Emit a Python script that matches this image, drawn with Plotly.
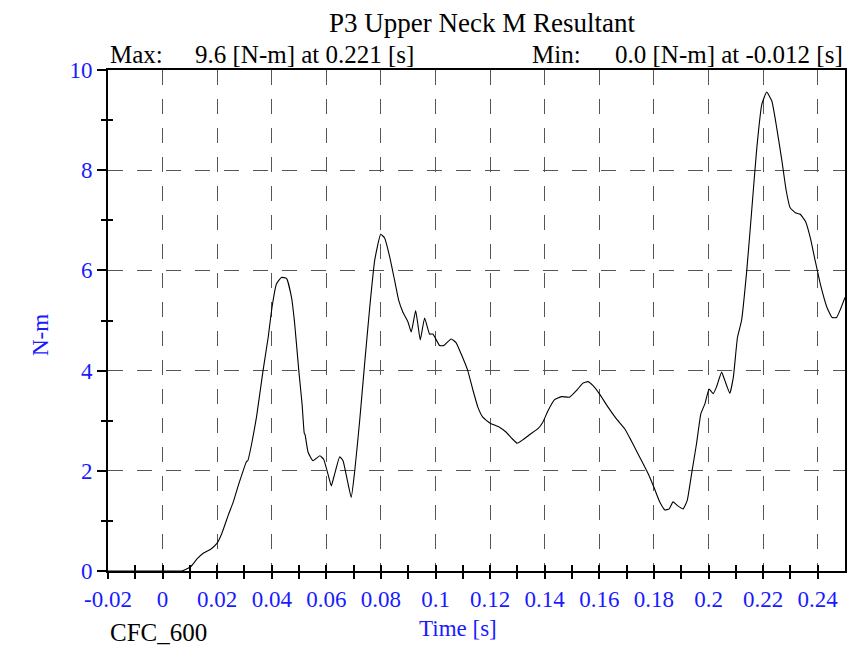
import plotly.graph_objects as go

title_text = "P3 Upper Neck M Resultant"
max_label = "Max:"
max_text = "9.6 [N-m] at 0.221 [s]"
min_label = "Min:"
min_text = "0.0 [N-m] at -0.012 [s]"
x_title = "Time [s]"
y_title = "N-m"
filter_text = "CFC_600"

time_s = [-0.02, -0.012, 0.0, 0.005, 0.007, 0.0102, 0.0126, 0.015, 0.0175, 0.0199, 0.0217,
          0.0241, 0.0259, 0.0278, 0.0295, 0.0307, 0.0312, 0.0326, 0.0344, 0.0368, 0.0387,
          0.0401, 0.0417, 0.0435, 0.0454, 0.0472, 0.0484, 0.0499, 0.0511, 0.0519, 0.0522,
          0.0533, 0.0551, 0.0576, 0.059, 0.0606, 0.0618, 0.063, 0.0649, 0.0661, 0.0676,
          0.0691, 0.0704, 0.0722, 0.074, 0.0759, 0.0777, 0.0799, 0.0813, 0.0832, 0.085,
          0.0865, 0.088, 0.0899, 0.0911, 0.0927, 0.0935, 0.0944, 0.096, 0.0978, 0.099,
          0.1015, 0.103, 0.1057, 0.1075, 0.1094, 0.1118, 0.1136, 0.1155, 0.1173, 0.12,
          0.1234, 0.1259, 0.1281, 0.1299, 0.132, 0.1344, 0.1375, 0.1393, 0.1412, 0.1436,
          0.1461, 0.1491, 0.1516, 0.154, 0.1558, 0.1577, 0.1601, 0.1632, 0.1662, 0.1693,
          0.1717, 0.1748, 0.1779, 0.18, 0.1821, 0.184, 0.1856, 0.187, 0.1885, 0.1907,
          0.1922, 0.1938, 0.1956, 0.1972, 0.1987, 0.2002, 0.2017, 0.2029, 0.2048, 0.206,
          0.2078, 0.2091, 0.2106, 0.2121, 0.214, 0.2158, 0.2177, 0.2195, 0.2213, 0.2232,
          0.225, 0.2269, 0.2285, 0.2299, 0.2318, 0.2336, 0.2355, 0.2373, 0.2391, 0.241,
          0.2434, 0.2453, 0.2469, 0.2483, 0.25]
moment_nm = [0.0, 0.0, 0.0, 0.0, 0.0, 0.08, 0.24, 0.36, 0.43, 0.55, 0.75,
             1.12, 1.38, 1.72, 2.0, 2.18, 2.2, 2.53, 3.07, 4.0, 4.67,
             5.27, 5.73, 5.86, 5.84, 5.47, 4.93, 4.0, 3.33, 2.75, 2.72,
             2.37, 2.2, 2.3, 2.23, 1.93, 1.7, 1.93, 2.28, 2.2, 1.83,
             1.47, 2.0, 3.0, 4.13, 5.27, 6.2, 6.72, 6.65, 6.27, 5.8,
             5.4, 5.17, 4.97, 4.77, 5.2, 4.93, 4.61, 5.05, 4.73, 4.73,
             4.5, 4.5, 4.63, 4.56, 4.33, 4.0, 3.63, 3.27, 3.07, 2.95,
             2.87, 2.77, 2.64, 2.55, 2.62, 2.72, 2.84, 2.97, 3.2, 3.42,
             3.48, 3.47, 3.6, 3.75, 3.78, 3.7, 3.53, 3.27, 3.04, 2.84,
             2.6, 2.27, 1.94, 1.67, 1.38, 1.22, 1.24, 1.38, 1.31, 1.24,
             1.41, 1.94, 2.54, 3.14, 3.34, 3.63, 3.54, 3.67, 3.97, 3.8,
             3.55, 3.87, 4.66, 5.0, 5.99, 7.18, 8.45, 9.31, 9.56, 9.38,
             8.84, 8.18, 7.58, 7.25, 7.15, 7.12, 6.98, 6.65, 6.19, 5.72,
             5.26, 5.06, 5.06, 5.22, 5.46]

x_major = [-0.02, 0.0, 0.02, 0.04, 0.06, 0.08, 0.1, 0.12, 0.14, 0.16, 0.18, 0.2, 0.22, 0.24]
x_major_labels = ["-0.02", "0", "0.02", "0.04", "0.06", "0.08", "0.1", "0.12", "0.14",
                  "0.16", "0.18", "0.2", "0.22", "0.24"]
x_minor = [-0.01, 0.01, 0.03, 0.05, 0.07, 0.09, 0.11, 0.13, 0.15, 0.17, 0.19, 0.21, 0.23]
x_all = sorted(x_major + x_minor)
y_major = [0, 2, 4, 6, 8, 10]
y_minor = [1, 3, 5, 7, 9]

FONT = "Liberation Serif, Times New Roman, serif"
BLUE = "#1a1aff"
GRID = "rgb(85,85,85)"

# The page body has an 8px default margin; plot area target on screen: x 108..845, y 70..571
OFF = 8
PL, PR, PT, PB = 108, 845, 70, 571
W, H = 858 - OFF, 646 - OFF

fig = go.Figure()
fig.add_trace(go.Scatter(x=time_s, y=moment_nm, mode="lines",
                         line=dict(color="black", width=1.1, shape="spline", smoothing=0.4),
                         showlegend=False, hoverinfo="skip"))
fig.add_trace(go.Scatter(x=[None], y=[None], xaxis="x2", yaxis="y", showlegend=False))
fig.add_trace(go.Scatter(x=[None], y=[None], xaxis="x", yaxis="y2", showlegend=False))

fig.update_layout(
    width=W, height=H,
    margin=dict(l=PL - OFF, r=W - (PR - OFF), t=PT - OFF, b=H - (PB - OFF), pad=0),
    paper_bgcolor="white", plot_bgcolor="white",
    font=dict(family=FONT, color="black"),
    xaxis=dict(range=[-0.02, 0.25], tickvals=x_major, ticktext=x_major_labels,
               ticks="outside", ticklen=6, tickwidth=1.5, tickcolor="black",
               tickfont=dict(family=FONT, size=23, color=BLUE),
               minor=dict(tickvals=x_minor, ticks="outside", ticklen=6, tickwidth=1.5,
                          tickcolor="black", showgrid=False),
               showgrid=True, gridcolor=GRID, gridwidth=1, griddash="15px,14px",
               showline=True, linecolor="black", linewidth=2, mirror=True,
               zeroline=False, automargin=False),
    xaxis2=dict(range=[-0.02, 0.25], overlaying="x", anchor="y", side="bottom",
                tickvals=x_all, ticks="inside", ticklen=6, tickwidth=1.5, tickcolor="black",
                showticklabels=False, showgrid=False, showline=False, zeroline=False),
    yaxis=dict(range=[0, 10], tickvals=y_major,
               ticks="outside", ticklen=9, tickwidth=1.5, tickcolor="black",
               tickfont=dict(family=FONT, size=23, color=BLUE),
               minor=dict(tickvals=y_minor, ticks="outside", ticklen=5, tickwidth=1.5,
                          tickcolor="black", showgrid=False),
               showgrid=True, gridcolor=GRID, gridwidth=1, griddash="15px,14px",
               showline=True, linecolor="black", linewidth=2, mirror=True,
               zeroline=False, automargin=False),
    yaxis2=dict(range=[0, 10], overlaying="y", anchor="x", side="left",
                tickvals=y_minor, ticks="inside", ticklen=5, tickwidth=1.5, tickcolor="black",
                showticklabels=False, showgrid=False, showline=False, zeroline=False),
)

annos = [
    dict(text=title_text, x=482, y=23, font=dict(size=27, color="black"), xanchor="center"),
    dict(text=max_label, x=108, y=54, font=dict(size=25, color="black"), xanchor="left"),
    dict(text=max_text, x=193, y=54, font=dict(size=25, color="black"), xanchor="left"),
    dict(text=min_label, x=530, y=54, font=dict(size=25, color="black"), xanchor="left"),
    dict(text=min_text, x=845, y=54, font=dict(size=25, color="black"), xanchor="right"),
    dict(text=filter_text, x=108, y=632, font=dict(size=25, color="black"), xanchor="left"),
    dict(text=x_title, x=458, y=628, font=dict(size=23, color=BLUE), xanchor="center"),
]
for a in annos:
    fig.add_annotation(text=a["text"], xref="paper", yref="paper",
                       x=(a["x"] - PL) / (PR - PL), y=(PB - a["y"]) / (PB - PT),
                       xanchor=a["xanchor"], yanchor="middle", showarrow=False,
                       font=dict(family=FONT, **a["font"]))
fig.add_annotation(text=y_title, xref="paper", yref="paper",
                   x=(40 - PL) / (PR - PL), y=(PB - 335) / (PB - PT),
                   xanchor="center", yanchor="middle", textangle=-90, showarrow=False,
                   font=dict(family=FONT, size=23, color=BLUE))

fig.write_html("out.html")
